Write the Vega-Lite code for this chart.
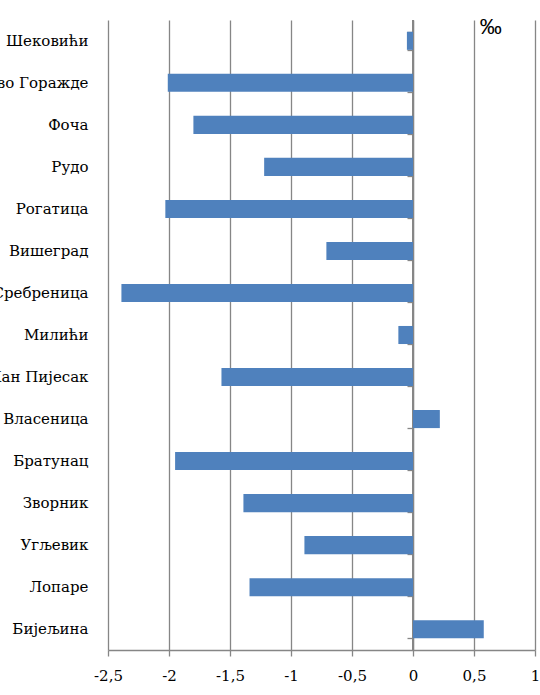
{
  "$schema": "https://vega.github.io/schema/vega-lite/v6.json",
  "width": 427,
  "height": 630,
  "autosize": {"type": "none"},
  "padding": {"left": 108, "top": 20, "right": 5, "bottom": 45},
  "background": "white",
  "title": {"text": "‰", "anchor": "end", "dx": -38, "offset": -20, "font": "Liberation Sans", "fontSize": 22, "fontWeight": "normal", "color": "black"},
  "config": {"view": {"stroke": null}},
  "data": {"values": [
    {"opstina": "Шековићи", "v": -0.05},
    {"opstina": "Ново Горажде", "v": -2.01},
    {"opstina": "Фоча", "v": -1.80},
    {"opstina": "Рудо", "v": -1.22},
    {"opstina": "Рогатица", "v": -2.03},
    {"opstina": "Вишеград", "v": -0.71},
    {"opstina": "Сребреница", "v": -2.39},
    {"opstina": "Милићи", "v": -0.12},
    {"opstina": "Хан Пијесак", "v": -1.57},
    {"opstina": "Власеница", "v": 0.22},
    {"opstina": "Братунац", "v": -1.95},
    {"opstina": "Зворник", "v": -1.39},
    {"opstina": "Угљевик", "v": -0.89},
    {"opstina": "Лопаре", "v": -1.34},
    {"opstina": "Бијељина", "v": 0.58}
  ]},
  "layer": [
    {
      "mark": {"type": "rule", "color": "#868686", "strokeWidth": 1.5},
      "encoding": {"x": {"datum": 0, "type": "quantitative"}}
    },
    {
      "mark": {"type": "bar", "color": "#4F81BD"},
      "encoding": {
        "y": {"field": "opstina", "type": "nominal", "sort": null,
          "scale": {"paddingInner": 0.57, "paddingOuter": 0.28},
          "axis": {"title": null, "orient": "left", "domain": false, "ticks": false, "labelPadding": 20,
            "labelFont": "DejaVu Serif", "labelFontSize": 15, "labelColor": "black"}},
        "x": {"field": "v", "type": "quantitative",
          "scale": {"domain": [-2.5, 1], "nice": false, "zero": false},
          "axis": {"title": null, "values": [-2.5, -2, -1.5, -1, -0.5, 0, 0.5, 1],
            "labelExpr": "replace(toString(datum.value), '.', ',')",
            "grid": true, "gridColor": "#868686", "gridWidth": 1.3,
            "domainColor": "#868686", "domainWidth": 1.3, "tickColor": "#868686", "tickWidth": 1.3, "tickSize": 6,
            "labelFont": "DejaVu Serif", "labelFontSize": 15, "labelColor": "black", "labelPadding": 12, "labelFlush": false}}
      }
    },
    {
      "mark": {"type": "bar", "opacity": 0},
      "encoding": {
        "y": {"field": "opstina", "type": "nominal", "sort": null,
          "axis": {"title": null, "orient": "left", "offset": -305, "labels": false, "domain": true, "ticks": true,
            "tickBand": "extent", "tickSize": 6, "tickColor": "#868686", "tickWidth": 1.3, "domainColor": "#868686", "domainWidth": 1.3}},
        "x": {"field": "v", "type": "quantitative"}
      }
    }
  ],
  "resolve": {"axis": {"y": "independent"}}
}
